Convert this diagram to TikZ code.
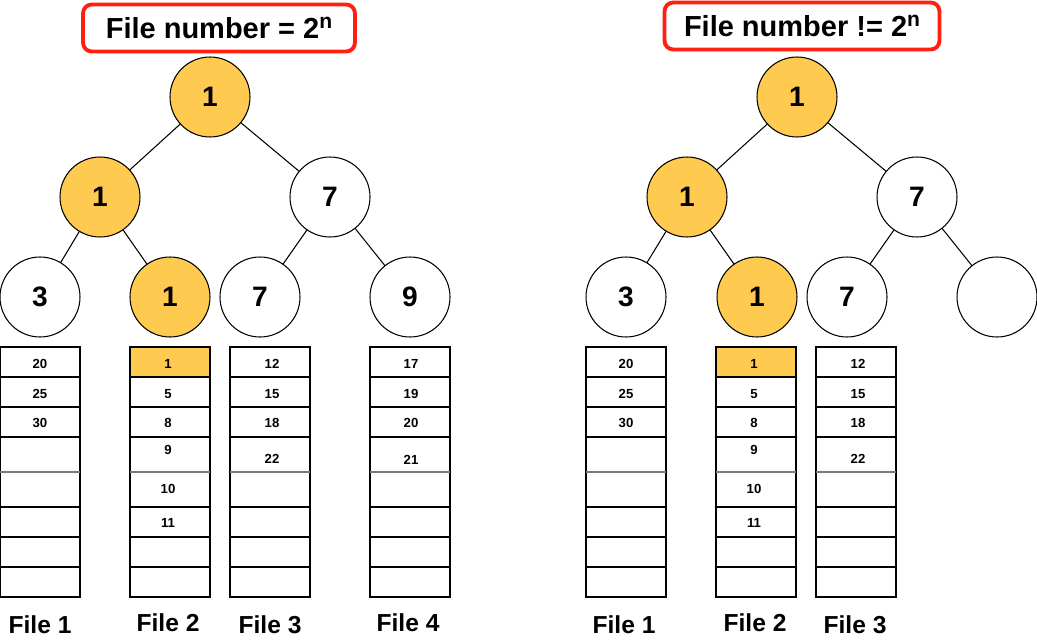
\documentclass[tikz,border=0pt]{standalone}
\usepackage{fontspec}
\setmainfont{Liberation Sans}
\definecolor{gold}{HTML}{FFCA50}
\definecolor{boxred}{HTML}{FF2010}
\definecolor{midgray}{HTML}{7A7A7A}
\newcommand{\supn}{\raisebox{6pt}{\fontsize{12}{12}\selectfont n}}

\begin{document}
\begin{tikzpicture}[x=0.02cm, y=-0.02cm]
\tikzset{ inner sep=0pt, outer sep=0pt,
  cir/.style={draw, circle, minimum size=1.6cm, line width=0.6pt, font=\fontsize{16}{16}\selectfont\bfseries},
  hot/.style={fill=gold},
  cell/.style={font=\fontsize{7.5}{7.5}\selectfont\bfseries},
  fname/.style={font=\fontsize{14}{14}\selectfont\bfseries},
  ttl/.style={draw=boxred, line width=2.2pt, rounded corners=5pt, minimum height=0.94cm, font=\fontsize{16.5}{16.5}\selectfont\bfseries},
}
\useasboundingbox (0,0) rectangle (1037,639);

% titles
\node [ttl, minimum width=5.44cm] (TL) at (219,28) {File number = 2\supn};
\node [ttl, minimum width=5.5cm]  (TR) at (802,26) {File number != 2\supn};

% left tree
\node [cir, hot] (L0) at (210,97)  {1};
\node [cir, hot] (L1) at (100,197) {1};
\node [cir]      (L2) at (330,197) {7};
\node [cir]      (L3) at (40,297)  {3};
\node [cir, hot] (L4) at (170,297) {1};
\node [cir]      (L5) at (260,297) {7};
\node [cir]      (L6) at (410,297) {9};

\draw [line width=0.6pt] (L0) -- (L1);
\draw [line width=0.6pt] (L0) -- (L2);
\draw [line width=0.6pt] (L1) -- (L3);
\draw [line width=0.6pt] (L1) -- (L4);
\draw [line width=0.6pt] (L2) -- (L5);
\draw [line width=0.6pt] (L2) -- (L6);

% right tree
\node [cir, hot] (R0) at (797,97)  {1};
\node [cir, hot] (R1) at (687,197) {1};
\node [cir]      (R2) at (917,197) {7};
\node [cir]      (R3) at (626,297) {3};
\node [cir, hot] (R4) at (757,297) {1};
\node [cir]      (R5) at (847,297) {7};
\node [cir]      (R6) at (997,297) {};

\draw [line width=0.6pt] (R0) -- (R1);
\draw [line width=0.6pt] (R0) -- (R2);
\draw [line width=0.6pt] (R1) -- (R3);
\draw [line width=0.6pt] (R1) -- (R4);
\draw [line width=0.6pt] (R2) -- (R5);
\draw [line width=0.6pt] (R2) -- (R6);

% file columns
\fill [gold] (130,347) rectangle (210,377);
\fill [gold] (716,347) rectangle (796,377);
\foreach \x in {0,130,230,370,586,716,816} {
  \draw [line width=0.6pt] (\x,347) rectangle ++(80,250);
  \foreach \y in {377,407,437,507,537,567}
    \draw [line width=0.6pt] (\x,\y) -- ++(80,0);
  \draw [midgray, line width=1.4pt] (\x,472) -- ++(80,0);
}

% left entries
\foreach \t/\y in {20/364,25/394,30/423}
  \node [cell] (La\t) at (40,\y) {\t};
\foreach \t/\y in {1/364,5/394,8/423,9/450,10/489,11/523}
  \node [cell] (Lb\t) at (168,\y) {\t};
\foreach \t/\y in {12/364,15/394,18/423,22/459}
  \node [cell] (Lc\t) at (272,\y) {\t};
\foreach \t/\y in {17/364,19/394,20/423,21/460}
  \node [cell] (Ld\t) at (411,\y) {\t};

% right entries
\foreach \t/\y in {20/364,25/394,30/423}
  \node [cell] (Ra\t) at (626,\y) {\t};
\foreach \t/\y in {1/364,5/394,8/423,9/450,10/489,11/523}
  \node [cell] (Rb\t) at (754,\y) {\t};
\foreach \t/\y in {12/364,15/394,18/423,22/459}
  \node [cell] (Rc\t) at (858,\y) {\t};

% file names
\node [fname] (LF1) at (40,625)  {File 1};
\node [fname] (LF2) at (168,623) {File 2};
\node [fname] (LF3) at (270,625) {File 3};
\node [fname] (LF4) at (408,623) {File 4};
\node [fname] (RF1) at (624,625) {File 1};
\node [fname] (RF2) at (755,623) {File 2};
\node [fname] (RF3) at (855,625) {File 3};

\end{tikzpicture}
\end{document}
